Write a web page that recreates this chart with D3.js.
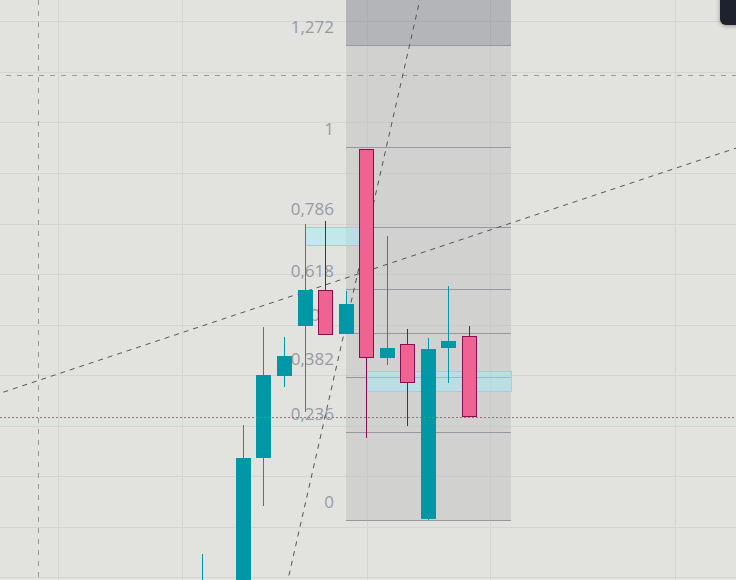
<!DOCTYPE html>
<html>
<head>
<meta charset="utf-8">
<script src="https://cdn.jsdelivr.net/npm/d3@7/dist/d3.min.js"></script>
<style>
  html, body { margin: 0; padding: 0; background: #e2e3de; overflow: hidden; }
  svg { display: block; }
</style>
</head>
<body>
<svg id="chart" width="736" height="580"></svg>
<script>
// ---- data (prices expressed in Fibonacci-ratio units of the drawn swing) ----
const bars   = [0, 2, 3, 4, 5, 6, 7, 8, 9, 10, 11, 12, 13];
const open   = [-0.30, -0.25, 0.167, 0.386, 0.520, 0.616, 0.499, 0.993, 0.435, 0.471, 0.003, 0.461, 0.493];
const high   = [-0.091, 0.2545, 0.518, 0.491, 0.793, 0.801, 0.613, 0.993, 0.761, 0.512, 0.4875, 0.627, 0.520];
const low    = [-0.35, -0.30, 0.038, 0.356, 0.290, 0.496, 0.499, 0.2205, 0.415, 0.252, 0.000, 0.368, 0.277];
const close  = [-0.19, 0.166, 0.388, 0.439, 0.616, 0.496, 0.579, 0.435, 0.461, 0.368, 0.458, 0.4795, 0.277];

// retracement levels; the last band (1.272 to 1.618) runs above the visible area
const fibLevels = [0, 0.236, 0.382, 0.5, 0.618, 0.786, 1, 1.272, 1.618];
const fibLabelLevels = [0, 0.236, 0.382, 0.5, 0.618, 0.786, 1, 1.272];
const fibStartBar = 7;
const fibEndBar = 15;

// horizontal grid (price ticks) and vertical grid (time ticks)
const gridValues = [-0.1527, -0.0188, 0.1179, 0.2518, 0.3884, 0.5224, 0.659, 0.7929, 0.9295, 1.0662, 1.2001, 1.3367];
const gridBars = [-7, -1, 8, 14, 23];

// rectangles: start bar, end bar, top, bottom
const boxStart  = [5, 8];
const boxEnd    = [8, 15];
const boxTop    = [0.785, 0.399];
const boxBottom = [0.736, 0.3456];

// trend lines through two anchor points (bar, value)
const trendA = [[3, -0.443], [11, 1.493]];
const trendB = [[0, 0.520], [15, 0.795]];

// crosshair position
const crossBar = -8;
const crossValue = 1.191;

// ---- layout ----
const W = 736, H = 580;
const svg = d3.select("#chart");

const x = d3.scaleLinear().domain([0, 15]).range([202.3, 510.5]);
const y = d3.scaleLinear().domain([0, 1]).range([520, 146.7]);

const TEAL = "#0097a7", PINK = "#f06292", PINK_DARK = "#880e4f";

svg.append("rect").attr("width", W).attr("height", H).attr("fill", "#e2e3de");

// grid
const grid = svg.append("g").attr("stroke", "#d5d6d1").attr("stroke-width", 1);
grid.selectAll("line.h").data(gridValues).join("line")
  .attr("class", "h")
  .attr("x1", 0).attr("x2", W)
  .attr("y1", d => Math.round(y(d)) + 0.5).attr("y2", d => Math.round(y(d)) + 0.5);
grid.selectAll("line.v").data(gridBars).join("line")
  .attr("class", "v")
  .attr("y1", 0).attr("y2", H)
  .attr("x1", d => Math.round(x(d)) + 0.5).attr("x2", d => Math.round(x(d)) + 0.5);

// fibonacci retracement
const fx0 = Math.round(x(fibStartBar)), fx1 = Math.round(x(fibEndBar));
const fib = svg.append("g");
const bands = d3.pairs(fibLevels);
fib.selectAll("rect").data(bands).join("rect")
  .attr("x", fx0).attr("width", fx1 - fx0)
  .attr("y", d => y(d[1])).attr("height", d => y(d[0]) - y(d[1]))
  .attr("fill", d => d[0] >= 1.272 ? "rgb(111,112,127)" : "#b8b8bc")
  .attr("fill-opacity", 0.4);
fib.selectAll("line").data(fibLevels).join("line")
  .attr("x1", fx0).attr("x2", fx1)
  .attr("y1", d => Math.round(y(d)) + 0.5).attr("y2", d => Math.round(y(d)) + 0.5)
  .attr("stroke", "#9598a1").attr("stroke-width", 1);
const fmt = v => String(v).replace(".", ",");
fib.selectAll("text").data(fibLabelLevels).join("text")
  .attr("x", fx0 - 12)
  .attr("y", d => Math.round(y(d)) - 12)
  .attr("text-anchor", "end")
  .attr("font-family", "'Open Sans', Roboto, sans-serif")
  .attr("font-size", 17)
  .attr("fill", "#989aa3")
  .text(fmt);

// rectangles
svg.append("g").selectAll("rect").data(boxStart.map((s, i) => i)).join("rect")
  .attr("x", i => Math.round(x(boxStart[i])) + 0.5)
  .attr("width", i => Math.round(x(boxEnd[i])) - Math.round(x(boxStart[i])))
  .attr("y", i => Math.round(y(boxTop[i])) + 0.5)
  .attr("height", i => Math.round(y(boxBottom[i])) - Math.round(y(boxTop[i])))
  .attr("fill", "rgb(157,238,253)").attr("fill-opacity", 0.45)
  .attr("stroke", "#80deea").attr("stroke-width", 1);

// crosshair
const cross = svg.append("g").attr("stroke", "#9a9a9a").attr("stroke-width", 1).attr("stroke-dasharray", "5,6");
cross.append("line")
  .attr("x1", 0).attr("x2", W)
  .attr("y1", Math.round(y(crossValue)) + 0.5).attr("y2", Math.round(y(crossValue)) + 0.5)
  .attr("stroke-dashoffset", -6);
cross.append("line")
  .attr("x1", Math.round(x(crossBar)) + 0.5).attr("x2", Math.round(x(crossBar)) + 0.5)
  .attr("y1", 0).attr("y2", H);

// trend lines, extended in both directions
function extend(p) {
  const [[b0, v0], [b1, v1]] = p;
  const k = (v1 - v0) / (b1 - b0);
  const bl = -30, br = 45;
  return [[x(bl), y(v0 + k * (bl - b0))], [x(br), y(v0 + k * (br - b0))]];
}
svg.append("g").selectAll("path").data([trendA, trendB]).join("path")
  .attr("d", d => d3.line()(extend(d)))
  .attr("fill", "none")
  .attr("stroke", "#555555").attr("stroke-width", 1)
  .attr("stroke-dasharray", "5,5");

// candles
const candles = bars.map((b, i) => ({ b, o: open[i], h: high[i], l: low[i], c: close[i] }));
const cg = svg.append("g");
candles.forEach(d => {
  const bx = Math.round(x(d.b) - 7.5);
  const up = d.c >= d.o;
  const col = up ? TEAL : PINK_DARK;
  const yh = Math.round(y(d.h)), yl = Math.round(y(d.l));
  const yt = Math.round(y(Math.max(d.o, d.c))), yb = Math.round(y(Math.min(d.o, d.c)));
  cg.append("rect").attr("x", bx + 7).attr("width", 1)
    .attr("y", yh).attr("height", Math.max(0, yl - yh)).attr("fill", col);
  if (up) {
    cg.append("rect").attr("x", bx).attr("width", 15)
      .attr("y", yt).attr("height", Math.max(1, yb - yt)).attr("fill", TEAL);
  } else {
    cg.append("rect").attr("x", bx + 0.5).attr("width", 14)
      .attr("y", yt + 0.5).attr("height", Math.max(1, yb - yt - 1))
      .attr("fill", PINK).attr("stroke", PINK_DARK).attr("stroke-width", 1);
  }
});

// last price line
const lastClose = close[close.length - 1];
svg.append("line")
  .attr("x1", 0).attr("x2", W)
  .attr("y1", Math.round(y(lastClose)) + 0.5).attr("y2", Math.round(y(lastClose)) + 0.5)
  .attr("stroke", "#f2457f").attr("stroke-width", 1).attr("stroke-dasharray", "2,2");

// corner widget
const defs = svg.append("defs");
const f = defs.append("filter").attr("id", "sh").attr("x", "-50%").attr("y", "-50%").attr("width", "200%").attr("height", "200%");
f.append("feDropShadow").attr("dx", 0).attr("dy", 1).attr("stdDeviation", 2).attr("flood-color", "#000").attr("flood-opacity", 0.35);
svg.append("rect").attr("x", 720).attr("y", -10).attr("width", 40).attr("height", 35).attr("rx", 6)
  .attr("fill", "#1e222d").attr("filter", "url(#sh)");
</script>
</body>
</html>
